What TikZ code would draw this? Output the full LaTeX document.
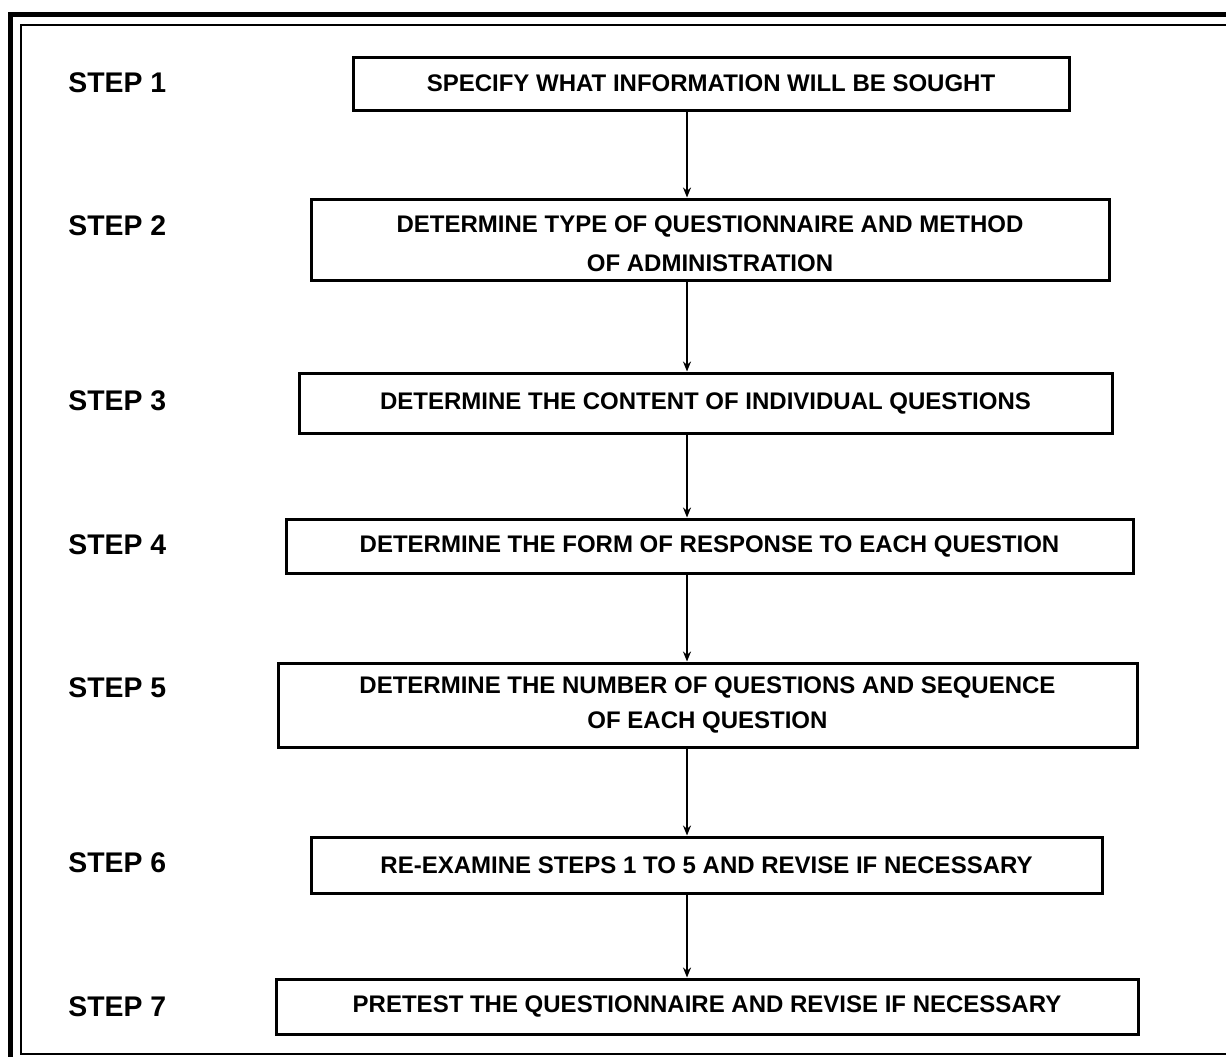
\documentclass[tikz,border=0pt]{standalone}
\usepackage{fontspec}
\setmainfont{Liberation Sans}
\usetikzlibrary{arrows.meta}
\begin{document}
\begin{tikzpicture}[x=0.5pt,y=-0.5pt,
  stepbox/.style={draw,line width=1.5pt,inner sep=0pt,align=center,
    font=\fontsize{12}{14.4}\selectfont\bfseries},
  steplabel/.style={anchor=west,inner sep=0pt,font=\fontsize{14.2}{17}\selectfont\bfseries},
  flow/.style={line width=1pt,-{Stealth[length=5pt,width=4pt]}}]
\useasboundingbox (0,0) rectangle (1226,1056);
\draw[line width=2.5pt] (10,1060) -- (10,14) -- (1230,14);
\draw[line width=1pt] (1230,25) -- (21,25) -- (21,1054) -- (1230,1054);

\node (s1) [steplabel] at (68,83) {STEP 1};
\node (s2) [steplabel] at (68,226) {STEP 2};
\node (s3) [steplabel] at (68,401) {STEP 3};
\node (s4) [steplabel] at (68,545) {STEP 4};
\node (s5) [steplabel] at (68,688) {STEP 5};
\node (s6) [steplabel] at (68,863) {STEP 6};
\node (s7) [steplabel] at (68,1007) {STEP 7};

\node (b1) [stepbox,minimum width=358pt,minimum height=26.5pt] at (711,83.5)
  {SPECIFY WHAT INFORMATION WILL BE SOUGHT};
\node (b2) [stepbox,minimum width=399pt,minimum height=40.5pt] at (710,239.5)
  {\rule{0pt}{13pt}DETERMINE TYPE OF QUESTIONNAIRE AND METHOD\\[5pt]OF ADMINISTRATION};
\node (b3) [stepbox,minimum width=406.5pt,minimum height=30pt] at (705.5,403)
  {DETERMINE THE CONTENT OF INDIVIDUAL QUESTIONS};
\node (b4) [stepbox,minimum width=423.5pt,minimum height=27pt] at (709.5,546)
  {DETERMINE THE FORM OF RESPONSE TO EACH QUESTION};
\node (b5) [stepbox,minimum width=429.5pt,minimum height=42pt] at (707.5,705)
  {DETERMINE THE NUMBER OF QUESTIONS AND SEQUENCE\\[3pt]OF EACH QUESTION};
\node (b6) [stepbox,minimum width=395.5pt,minimum height=28pt] at (706.5,865)
  {RE-EXAMINE STEPS 1 TO 5 AND REVISE IF NECESSARY};
\node (b7) [stepbox,minimum width=431pt,minimum height=27.5pt] at (707,1006.5)
  {PRETEST THE QUESTIONNAIRE AND REVISE IF NECESSARY};

\coordinate (ax) at (687,0);
\foreach \a/\b in {b1/b2,b2/b3,b3/b4,b4/b5,b5/b6,b6/b7}
  \draw[flow] (\a.south -| ax) -- (\b.north -| ax);
\end{tikzpicture}
\end{document}
